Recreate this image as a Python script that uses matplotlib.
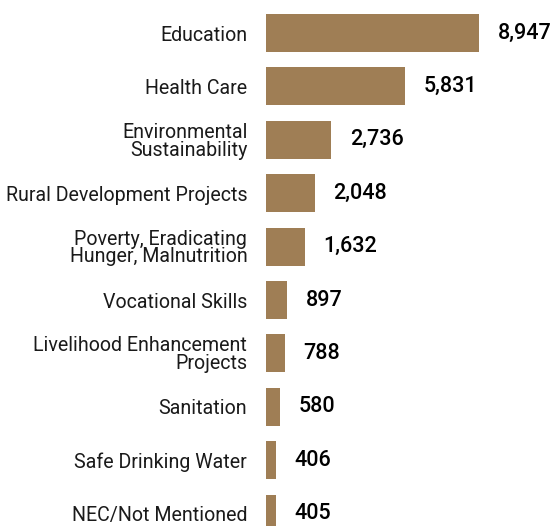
import numpy as np
import matplotlib.pyplot as plt

categories = ['Education', 'Health Care', 'Environmental\nSustainability',
              'Rural Development Projects', 'Poverty, Eradicating\nHunger, Malnutrition',
              'Vocational Skills', 'Livelihood Enhancement\nProjects', 'Sanitation',
              'Safe Drinking Water', 'NEC/Not Mentioned']
values = [8947, 5831, 2736, 2048, 1632, 897, 788, 580, 406, 405]

bar_color = '#9F7E55'

fig = plt.figure(figsize=(5.57, 5.26), dpi=100)
# axes from bar start (x=266px) to right edge, full height
ax = fig.add_axes([266 / 557, 0, 1 - 266 / 557, 1])

y = np.arange(len(values))
ax.barh(y, values, height=0.71, color=bar_color)

ax.set_xlim(0, 12222)
ax.set_ylim(9.232, -0.618)

ax.set_yticks(y)
ax.set_yticklabels(categories, fontsize=14.1, family='Roboto', color='#1a1a1a',
                   linespacing=0.92)
ax.tick_params(axis='y', length=0, pad=13.5)
ax.set_xticks([])
for s in ax.spines.values():
    s.set_visible(False)

for yi, v in zip(y, values):
    ax.annotate(f'{v:,}', (v, yi), xytext=(13.5, 0), textcoords='offset points',
                va='center', ha='left', fontsize=15.5, family='Roboto',
                fontweight='medium', color='black', annotation_clip=False)

fig.savefig('out.png', dpi=100)
